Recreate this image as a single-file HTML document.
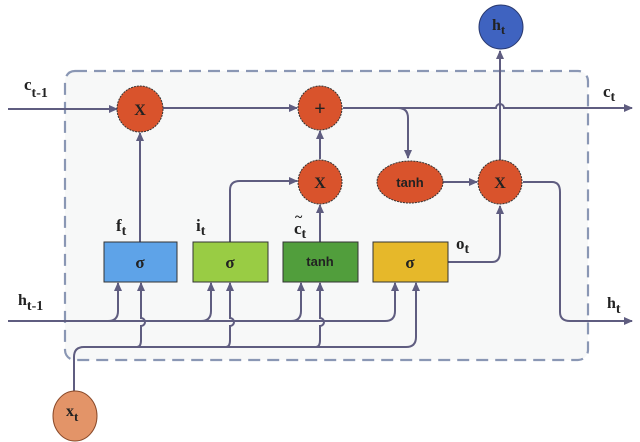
<!DOCTYPE html>
<html><head><meta charset="utf-8"><style>
html,body{margin:0;padding:0;background:#fff;}
svg{display:block;}
text{font-family:"Liberation Serif",serif;font-weight:bold;fill:#222;}
.s{font-family:"Liberation Sans",sans-serif;}
</style></head><body>
<svg width="640" height="442" viewBox="0 0 640 442" xmlns="http://www.w3.org/2000/svg">
<defs>
<marker id="a" markerWidth="10" markerHeight="10" refX="8" refY="5" orient="auto" markerUnits="userSpaceOnUse">
<path d="M0,1 L9,5 L0,9 Z" fill="#5f5d80"/></marker>
</defs>
<rect x="65" y="71" width="523" height="289" rx="10" fill="#f7f8f8" stroke="#8a97b4" stroke-width="2.2" stroke-dasharray="12,7"/>
<g fill="none" stroke="#5f5d80" stroke-width="2">
<!-- cell line -->
<path d="M8,109 H117" marker-end="url(#a)"/>
<path d="M163,108 H297" marker-end="url(#a)"/>
<path d="M343,108 H496 a4,4 0 0 1 8,0 H632" marker-end="url(#a)"/>
<path d="M398,108 Q408,108 408,118 V158" marker-end="url(#a)"/>
<!-- f -->
<path d="M140,242 V133" marker-end="url(#a)"/>
<!-- i -->
<path d="M230,242 V190 Q230,181 240,181 H297" marker-end="url(#a)"/>
<!-- c tilde -->
<path d="M320,242 V205" marker-end="url(#a)"/>
<path d="M320,159 V131" marker-end="url(#a)"/>
<!-- tanh to X -->
<path d="M443,182 H477" marker-end="url(#a)"/>
<!-- o -->
<path d="M448,262 H492 Q500,262 500,252 V206" marker-end="url(#a)"/>
<!-- X to h top -->
<path d="M500,160 V51" marker-end="url(#a)"/>
<!-- X to h out -->
<path d="M523,182 H552 Q560,182 560,192 V312 Q560,321 570,321 H632" marker-end="url(#a)"/>
<!-- h line -->
<path d="M8,321 H385 Q395,321 395,311 V283" marker-end="url(#a)"/>
<path d="M108,321 Q118,321 118,311 V283" marker-end="url(#a)"/>
<path d="M201,321 Q211,321 211,311 V283" marker-end="url(#a)"/>
<path d="M291,321 Q301,321 301,311 V283" marker-end="url(#a)"/>
<!-- x line -->
<path d="M74,394 V357 Q74,347 84,347 H406 Q416,347 416,337 V283" marker-end="url(#a)"/>
<path d="M137,347 Q141,347 141,340 V326 a4,4 0 0 0 0,-8 V283" marker-end="url(#a)"/>
<path d="M226,347 Q230,347 230,340 V326 a4,4 0 0 0 0,-8 V283" marker-end="url(#a)"/>
<path d="M316,347 Q320,347 320,340 V326 a4,4 0 0 0 0,-8 V283" marker-end="url(#a)"/>
</g>
<!-- circles -->
<g stroke="#333" stroke-width="1" stroke-dasharray="2,1">
<circle cx="140" cy="109" r="23" fill="#d9532c"/>
<circle cx="320" cy="108" r="22" fill="#d9532c"/>
<circle cx="320" cy="182" r="22" fill="#d9532c"/>
<circle cx="500" cy="182" r="22" fill="#d9532c"/>
<ellipse cx="410" cy="182" rx="33" ry="21" fill="#d9532c"/>
</g>
<circle cx="501" cy="27" r="22" fill="#3f63c0" stroke="#2a3a70" stroke-width="1"/>
<ellipse cx="75" cy="416" rx="22" ry="25" fill="#e39468" stroke="#8a4a2a" stroke-width="1"/>
<!-- boxes -->
<rect x="104" y="242" width="73" height="40" fill="#5ea3e8" stroke="#333"/>
<rect x="193" y="242" width="75" height="40" fill="#99cc44" stroke="#333"/>
<rect x="283" y="242" width="75" height="40" fill="#519e3c" stroke="#333"/>
<rect x="373" y="242" width="75" height="40" fill="#e6b82a" stroke="#333"/>
<!-- labels -->
<text x="140" y="115" font-size="16" text-anchor="middle">X</text>
<text x="320" y="115" font-size="20" text-anchor="middle">+</text>
<text x="320" y="188" font-size="16" text-anchor="middle">X</text>
<text x="500" y="188" font-size="16" text-anchor="middle">X</text>
<text x="410" y="187" font-size="13" text-anchor="middle" class="s">tanh</text>
<text x="140" y="268" font-size="17" text-anchor="middle">σ</text>
<text x="230" y="268" font-size="17" text-anchor="middle">σ</text>
<text x="320" y="266" font-size="13" text-anchor="middle" class="s">tanh</text>
<text x="410" y="268" font-size="17" text-anchor="middle">σ</text>
<text x="492" y="30" font-size="16">h<tspan font-size="13" dy="4">t</tspan></text>
<text x="66" y="416" font-size="16">x<tspan font-size="13" dy="5">t</tspan></text>
<text x="24" y="90" font-size="17">c<tspan font-size="14" dy="7">t-1</tspan></text>
<text x="18" y="305" font-size="16">h<tspan font-size="14" dy="5">t-1</tspan></text>
<text x="603" y="97" font-size="17">c<tspan font-size="14" dy="4">t</tspan></text>
<text x="607" y="308" font-size="16">h<tspan font-size="14" dy="5">t</tspan></text>
<text x="116" y="231" font-size="17">f<tspan font-size="14" dy="4">t</tspan></text>
<text x="196" y="231" font-size="17">i<tspan font-size="14" dy="4">t</tspan></text>
<text x="294" y="234" font-size="17">c<tspan font-size="14" dy="4">t</tspan></text>
<text x="295" y="221" font-size="14">~</text>
<text x="456" y="249" font-size="17">o<tspan font-size="14" dy="4">t</tspan></text>
</svg>
</body></html>
